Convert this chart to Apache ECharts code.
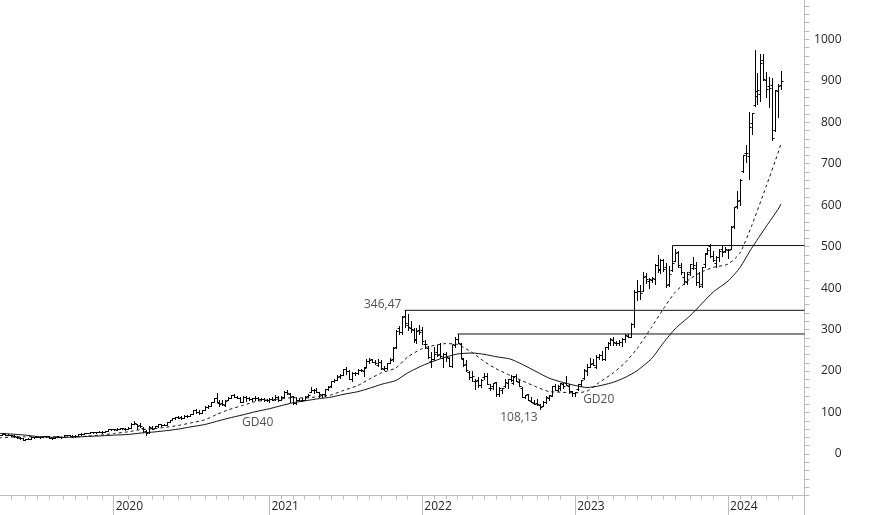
<!DOCTYPE html>
<html><head><meta charset="utf-8">
<script src="https://cdn.jsdelivr.net/npm/echarts@6/dist/echarts.min.js"></script>
<style>html,body{margin:0;padding:0;background:#fff;}#chart{width:874px;height:515px;}</style>
</head><body><div id="chart"></div>
<script>
// weekly bars: [week ending, open, high, low, close]
const ohlc2019 = [
['2019-04-05',44.2,46.9,44.0,46.7],['2019-04-12',46.7,48.2,46.0,47.5],['2019-04-18',47.5,48.3,46.4,46.8],['2019-04-26',46.8,48.1,45.4,45.4],
['2019-05-03',45.3,46.3,44.0,44.8],['2019-05-10',44.0,45.0,41.6,42.3],['2019-05-17',41.5,43.0,39.5,40.0],['2019-05-24',39.5,40.0,37.0,37.6],['2019-05-31',37.6,37.8,33.8,34.1],
['2019-06-07',34.0,37.0,33.3,36.5],['2019-06-14',36.5,39.0,36.2,36.2],['2019-06-21',36.5,41.1,36.3,40.6],['2019-06-28',40.5,41.5,38.8,41.1],
['2019-07-05',41.5,42.2,40.0,40.5],['2019-07-12',40.2,42.0,39.7,42.0],['2019-07-19',42.0,43.0,41.5,42.3],['2019-07-26',42.3,43.6,41.8,43.3],
['2019-08-02',43.3,43.8,39.5,39.7],['2019-08-09',38.5,39.5,37.0,39.5],['2019-08-16',39.0,42.0,37.5,41.5],['2019-08-23',43.0,44.4,40.0,40.4],['2019-08-30',40.0,42.0,39.8,42.0],
['2019-09-06',41.7,45.0,41.3,44.8],['2019-09-13',45.0,46.4,44.7,45.3],['2019-09-20',45.3,46.0,44.0,44.4],['2019-09-27',44.4,45.0,42.0,42.6],
['2019-10-04',43.0,44.7,42.0,44.6],['2019-10-11',44.5,47.4,44.3,47.4],['2019-10-18',47.4,49.5,47.0,48.0],['2019-10-25',48.0,50.5,47.5,50.4],
['2019-11-01',50.4,51.0,49.5,51.0],['2019-11-08',51.0,53.0,50.8,52.5],['2019-11-15',52.5,53.5,51.5,52.5],['2019-11-22',52.6,53.0,49.5,52.4],['2019-11-29',52.4,54.5,52.0,54.2],
['2019-12-06',54.0,54.5,50.8,52.5],['2019-12-13',52.5,56.0,52.0,56.0],['2019-12-20',56.0,59.5,55.5,59.5],['2019-12-27',59.5,60.0,58.8,59.5]
];
const ohlc2020 = [
['2020-01-03',59.5,60.0,57.8,59.2],['2020-01-10',59.0,62.0,58.5,61.3],['2020-01-17',61.3,63.0,60.5,62.5],['2020-01-24',62.5,63.4,61.0,62.0],['2020-01-31',61.0,63.0,58.5,59.3],
['2020-02-07',60.0,64.0,59.8,63.6],['2020-02-14',63.6,74.0,63.0,73.5],['2020-02-21',73.5,79.0,73.0,74.5],['2020-02-28',72.0,73.0,60.0,67.6],
['2020-03-06',69.0,74.0,64.5,67.0],['2020-03-13',63.0,66.0,52.5,60.0],['2020-03-20',55.0,59.0,45.0,50.0],['2020-03-27',52.0,66.5,51.0,64.0],
['2020-04-03',63.5,67.5,60.5,60.5],['2020-04-09',63.5,68.0,63.0,66.5],['2020-04-17',66.5,72.5,66.0,72.3],['2020-04-24',71.5,73.0,67.5,71.0],
['2020-05-01',71.0,73.3,69.0,70.0],['2020-05-08',70.0,77.3,69.5,77.3],['2020-05-15',77.0,82.0,76.5,81.8],['2020-05-22',82.0,88.0,82.0,87.0],['2020-05-29',88.0,89.5,84.5,88.8],
['2020-06-05',88.5,91.0,86.5,88.0],['2020-06-12',88.5,92.0,84.0,88.0],['2020-06-19',88.0,93.0,86.5,92.8],['2020-06-26',92.5,93.5,90.0,91.5],
['2020-07-02',91.5,97.7,91.0,97.5],['2020-07-10',97.5,106.5,97.0,105.0],['2020-07-17',105.0,107.5,99.0,101.0],['2020-07-24',102.0,106.0,96.0,100.0],['2020-07-31',100.0,107.0,99.0,106.0],
['2020-08-07',106.0,116.0,106.0,114.0],['2020-08-14',114.0,117.5,110.0,115.5],['2020-08-21',116.0,126.5,116.0,125.5],['2020-08-28',126.0,134.0,125.0,134.0],
['2020-09-04',134.0,147.6,126.0,126.0],['2020-09-11',124.0,131.0,115.5,121.5],['2020-09-18',124.0,130.0,119.0,119.5],['2020-09-25',117.5,129.5,116.5,129.0],
['2020-10-02',130.0,137.5,130.0,134.5],['2020-10-09',135.0,142.5,134.0,142.0],['2020-10-16',143.0,144.0,136.5,137.5],['2020-10-23',138.0,139.0,134.0,136.0],['2020-10-30',135.5,137.0,125.0,125.0],
['2020-11-06',126.0,141.0,125.0,136.5],['2020-11-13',138.0,141.0,128.0,135.0],['2020-11-20',134.0,137.0,130.0,131.5],['2020-11-27',132.0,135.5,129.0,134.5],
['2020-12-04',134.5,139.0,130.5,136.0],['2020-12-11',136.0,138.5,131.0,132.5],['2020-12-18',133.0,135.0,130.0,133.0],['2020-12-24',133.0,134.5,128.5,129.5],['2020-12-31',129.5,132.5,128.0,130.5]
];
const ohlc2021 = [
['2021-01-08',131.0,135.0,125.5,133.0],['2021-01-15',133.0,137.0,130.0,130.5],['2021-01-22',131.5,141.5,131.0,136.5],['2021-01-29',137.0,141.0,128.0,130.0],
['2021-02-05',131.0,139.0,130.0,136.5],['2021-02-12',137.0,151.0,137.0,149.5],['2021-02-19',150.0,153.7,145.0,147.0],['2021-02-26',144.0,146.0,126.5,137.0],
['2021-03-05',139.0,141.0,121.5,124.0],['2021-03-12',124.0,135.0,121.0,130.0],['2021-03-19',131.0,136.0,128.0,128.5],['2021-03-26',130.0,134.0,127.0,130.0],
['2021-04-01',130.0,139.0,129.5,138.0],['2021-04-09',139.0,144.0,137.0,143.5],['2021-04-16',150.0,162.0,149.0,155.0],['2021-04-23',154.0,156.0,146.0,154.0],['2021-04-30',154.0,158.0,149.0,150.0],
['2021-05-07',149.0,150.0,137.0,144.5],['2021-05-14',143.0,145.0,138.0,144.0],['2021-05-21',145.0,157.0,140.5,156.0],['2021-05-28',157.0,164.0,155.0,162.0],
['2021-06-04',163.0,176.0,161.0,175.0],['2021-06-11',175.0,180.0,173.0,178.0],['2021-06-18',178.0,191.0,178.0,186.0],['2021-06-25',187.0,193.0,183.0,191.0],
['2021-07-02',191.0,205.0,190.0,204.0],['2021-07-09',205.0,208.7,192.0,201.0],['2021-07-16',201.0,203.5,181.0,182.0],['2021-07-23',180.0,197.0,177.0,195.0],['2021-07-30',195.0,198.0,190.0,195.0],
['2021-08-06',195.0,206.0,194.0,203.0],['2021-08-13',202.0,206.0,199.0,202.0],['2021-08-20',201.0,209.0,188.5,208.0],['2021-08-27',210.0,229.0,210.0,224.0],
['2021-09-03',224.0,230.4,219.0,227.5],['2021-09-10',228.0,229.5,221.0,221.0],['2021-09-17',222.0,226.0,217.0,219.0],['2021-09-24',214.0,228.0,212.0,221.0],
['2021-10-01',221.0,226.0,205.0,207.0],['2021-10-08',206.0,212.0,203.5,208.0],['2021-10-15',207.0,219.0,206.0,219.0],['2021-10-22',220.0,231.0,220.0,227.0],['2021-10-29',228.0,257.0,225.0,255.7],
['2021-11-05',258.0,298.5,256.0,297.5],['2021-11-12',305.0,309.0,290.0,294.0],['2021-11-19',294.0,332.0,289.0,329.9],['2021-11-26',332.0,346.47,306.0,315.0],
['2021-12-03',312.0,337.0,298.0,306.0],['2021-12-10',305.0,321.0,295.0,302.0],['2021-12-17',300.0,304.0,270.0,278.0],['2021-12-23',274.0,304.0,268.0,297.0],['2021-12-31',300.0,310.0,290.0,294.1]
];
const ohlc2022 = [
['2022-01-07',298.0,307.0,266.0,272.5],['2022-01-14',265.0,275.0,255.0,265.0],['2022-01-21',255.0,260.0,232.0,233.7],['2022-01-28',224.0,245.0,208.9,228.4],
['2022-02-04',230.0,257.0,227.0,240.0],['2022-02-11',245.0,262.0,237.0,238.0],['2022-02-18',240.0,268.0,234.0,236.0],['2022-02-25',231.0,244.0,210.0,241.6],
['2022-03-04',240.0,247.0,225.0,233.0],['2022-03-11',231.0,235.0,212.0,213.0],['2022-03-18',213.0,264.0,210.0,264.5],['2022-03-25',264.0,282.0,258.0,276.9],
['2022-04-01',278.0,289.46,267.0,267.1],['2022-04-08',266.0,267.0,231.0,231.2],['2022-04-14',228.0,232.0,212.0,215.0],['2022-04-22',216.0,227.0,200.0,201.8],['2022-04-29',198.0,201.0,182.0,185.5],
['2022-05-06',186.0,199.0,175.0,187.0],['2022-05-13',175.0,181.0,155.7,177.0],['2022-05-20',178.0,185.0,162.0,167.0],['2022-05-27',166.0,180.0,161.0,178.5],
['2022-06-03',185.0,195.0,180.0,187.0],['2022-06-10',188.0,196.0,170.0,170.0],['2022-06-17',160.0,170.0,155.0,158.0],['2022-06-24',163.0,172.0,157.0,171.0],
['2022-07-01',173.0,174.0,140.5,145.2],['2022-07-08',145.0,161.0,140.5,158.1],['2022-07-15',155.0,160.0,147.0,160.0],['2022-07-22',163.0,180.0,162.0,173.0],['2022-07-29',172.0,182.0,159.0,181.6],
['2022-08-05',180.0,191.0,176.0,179.0],['2022-08-12',172.0,187.0,169.0,187.1],['2022-08-19',188.0,192.7,175.0,176.0],['2022-08-26',174.0,179.0,163.0,163.5],
['2022-09-02',160.0,162.0,136.5,136.5],['2022-09-09',137.0,143.0,135.0,143.0],['2022-09-16',144.0,145.0,130.0,130.7],['2022-09-23',129.0,137.0,125.0,125.2],['2022-09-30',124.0,130.0,119.5,121.4],
['2022-10-07',124.0,132.0,119.0,120.8],['2022-10-14',118.0,121.0,108.13,112.3],['2022-10-21',116.0,127.0,115.0,124.7],['2022-10-28',125.0,139.0,124.0,138.3],
['2022-11-04',136.0,142.0,131.0,141.6],['2022-11-11',141.0,165.0,139.0,163.3],['2022-11-18',165.0,170.0,154.0,154.1],['2022-11-25',154.0,166.0,152.0,163.3],
['2022-12-02',160.0,172.0,155.0,170.9],['2022-12-09',170.0,172.0,159.0,164.0],['2022-12-16',171.0,187.0,166.0,166.0],['2022-12-23',164.0,168.0,148.0,152.1],['2022-12-30',151.0,151.0,140.3,146.1]
];
const ohlc2023 = [
['2023-01-06',148.0,149.0,140.3,148.6],['2023-01-13',156.0,169.0,154.0,169.0],['2023-01-20',169.0,178.0,163.0,178.4],['2023-01-27',184.0,204.0,182.0,203.6],
['2023-02-03',199.0,217.0,191.0,211.0],['2023-02-10',209.0,231.0,209.0,217.8],['2023-02-17',219.0,230.0,214.0,213.9],['2023-02-24',211.0,238.0,207.0,232.9],
['2023-03-03',235.0,240.0,229.0,239.0],['2023-03-10',238.0,248.0,227.0,229.6],['2023-03-17',230.0,259.0,227.0,257.2],['2023-03-24',258.0,271.0,254.0,267.8],['2023-03-31',268.0,280.0,262.0,277.8],
['2023-04-06',276.0,281.0,262.0,270.4],['2023-04-14',267.0,273.0,262.0,267.3],['2023-04-21',267.0,275.0,263.0,271.0],['2023-04-28',269.0,280.0,261.0,277.5],
['2023-05-05',278.0,289.0,271.0,287.0],['2023-05-12',285.0,290.0,281.0,283.0],['2023-05-19',283.0,316.0,282.0,312.6],['2023-05-26',313.0,395.0,306.0,389.5],
['2023-06-02',391.0,419.4,371.0,393.3],['2023-06-09',392.0,408.0,373.0,387.7],['2023-06-16',393.0,439.9,392.0,426.9],['2023-06-23',430.0,436.0,413.0,422.1],['2023-06-30',418.0,425.0,400.0,423.0],
['2023-07-07',420.0,426.0,414.0,425.0],['2023-07-14',421.0,459.0,411.0,454.7],['2023-07-21',456.0,480.9,440.0,443.1],['2023-07-28',445.0,470.0,436.0,467.5],
['2023-08-04',468.0,470.0,441.0,446.8],['2023-08-11',450.0,460.0,403.1,408.6],['2023-08-18',410.0,454.0,406.0,432.9],['2023-08-25',444.0,502.66,441.0,460.2],
['2023-09-01',466.0,494.0,465.0,485.1],['2023-09-08',488.0,488.9,450.0,455.7],['2023-09-15',452.0,460.0,433.0,439.0],['2023-09-22',427.0,439.0,409.8,416.1],['2023-09-29',415.0,438.0,409.0,435.0],
['2023-10-06',440.0,458.0,431.0,457.6],['2023-10-13',448.0,476.0,445.0,454.6],['2023-10-20',449.0,464.0,408.0,413.9],['2023-10-27',415.0,439.0,403.0,405.0],
['2023-11-03',410.0,452.0,403.0,450.1],['2023-11-10',458.0,484.0,451.0,483.4],['2023-11-17',485.0,497.0,483.0,492.0],['2023-11-24',501.0,505.5,475.0,477.8],
['2023-12-01',478.0,490.0,465.0,467.7],['2023-12-08',460.0,477.0,450.0,475.1],['2023-12-15',474.0,494.0,466.0,488.9],['2023-12-22',494.0,502.0,478.0,488.3],['2023-12-29',489.0,499.0,488.0,495.2]
];
const ohlc2024 = [
['2024-01-05',492.0,494.0,473.0,490.9],['2024-01-12',495.0,550.0,494.0,547.1],['2024-01-19',550.0,595.0,545.0,594.9],['2024-01-26',598.0,634.9,592.0,610.3],
['2024-02-02',612.0,663.0,600.0,661.6],['2024-02-09',682.0,722.0,680.0,721.3],['2024-02-16',726.0,746.0,705.0,726.1],['2024-02-23',719.0,823.9,662.5,788.2],
['2024-03-01',797.0,823.0,771.0,822.8],['2024-03-08',841.0,974.0,838.0,875.3],['2024-03-15',864.0,919.6,845.0,878.4],['2024-03-22',867.0,965.7,850.0,942.9],['2024-03-28',950.0,963.8,902.0,903.6],
['2024-04-05',902.0,922.0,860.0,880.1],['2024-04-12',887.0,908.0,837.0,881.9],['2024-04-19',890.0,906.0,756.0,762.0],['2024-04-26',781.0,878.0,779.0,877.4],
['2024-05-03',875.0,892.0,812.0,887.9],['2024-05-10',890.0,924.0,880.0,898.8]
];
// empty weeks to the right edge of the time axis
const padWeeks = ['2024-05-17','2024-05-24','2024-05-31','2024-06-07','2024-06-14','2024-06-21','2024-06-28','2024-07-05'];

// moving averages: [date, value]
const ma20 = [
['2019-04-01',38.9],['2019-05-01',40.8],['2019-06-01',41.5],['2019-07-01',41.5],['2019-08-01',41.7],['2019-09-01',40.8],['2019-10-01',41.1],['2019-11-01',43.2],['2019-12-01',46.0],
['2020-01-01',49.5],['2020-02-01',53.6],['2020-03-01',58.8],['2020-04-01',60.9],['2020-05-01',63.8],['2020-06-01',68.8],['2020-07-01',74.6],['2020-08-01',82.4],['2020-09-01',95.2],['2020-10-01',106.6],['2020-11-01',117.5],['2020-12-01',126.1],
['2021-01-01',130.9],['2021-02-01',133.0],['2021-03-01',136.2],['2021-04-01',135.0],['2021-05-01',138.7],['2021-06-01',142.6],['2021-07-01',152.8],['2021-08-01',165.0],['2021-09-01',180.6],['2021-10-01',195.4],['2021-11-01',207.6],['2021-12-01',233.9],
['2022-01-01',254.3],['2022-02-01',261.8],['2022-03-01',266.3],['2022-04-01',263.9],['2022-05-01',244.6],['2022-06-01',223.2],['2022-07-01',205.9],['2022-08-01',189.1],['2022-09-01',176.5],['2022-10-01',161.3],['2022-11-01',150.7],['2022-12-01',149.1],
['2023-01-01',147.6],['2023-02-01',151.5],['2023-03-01',171.6],['2023-04-01',196.0],['2023-05-01',220.5],['2023-06-01',253.7],['2023-07-01',306.0],['2023-08-01',350.0],['2023-09-01',390.0],['2023-10-01',422.0],['2023-11-01',439.0],['2023-12-01',450.0],
['2024-01-01',458.0],['2024-02-01',484.0],['2024-03-01',550.0],['2024-04-01',646.0],['2024-05-01',726.0],['2024-05-10',749.0]
];
const ma40 = [
['2019-04-01',50.0],['2019-05-01',48.3],['2019-06-01',45.5],['2019-07-01',42.2],['2019-08-01',40.4],['2019-09-01',40.2],['2019-10-01',41.1],['2019-11-01',42.4],['2019-12-01',43.9],
['2020-01-01',45.5],['2020-02-01',47.2],['2020-03-01',50.4],['2020-04-01',52.7],['2020-05-01',55.6],['2020-06-01',60.1],['2020-07-01',65.2],['2020-08-01',71.1],['2020-09-01',78.7],['2020-10-01',86.3],['2020-11-01',94.5],['2020-12-01',101.7],
['2021-01-01',109.3],['2021-02-01',116.6],['2021-03-01',123.7],['2021-04-01',128.2],['2021-05-01',133.7],['2021-06-01',137.2],['2021-07-01',143.7],['2021-08-01',150.3],['2021-09-01',158.5],['2021-10-01',167.9],['2021-11-01',177.3],['2021-12-01',195.5],
['2022-01-01',213.2],['2022-02-01',224.2],['2022-03-01',233.9],['2022-04-01',241.2],['2022-05-01',243.6],['2022-06-01',240.4],['2022-07-01',234.8],['2022-08-01',228.8],['2022-09-01',216.1],['2022-10-01',197.8],['2022-11-01',183.3],['2022-12-01',174.2],
['2023-01-01',165.3],['2023-02-01',160.3],['2023-03-01',164.1],['2023-04-01',173.0],['2023-05-01',184.7],['2023-06-01',200.7],['2023-07-01',230.1],['2023-08-01',268.0],['2023-09-01',302.0],['2023-10-01',333.0],['2023-11-01',362.0],['2023-12-01',391.0],
['2024-01-01',417.0],['2024-02-01',449.0],['2024-03-01',496.0],['2024-04-01',549.0],['2024-05-01',590.0],['2024-05-10',603.0]
];
// horizontal resistance levels: [start week, level]
const levels = [['2021-11-26',346.47],['2022-04-01',289.46],['2023-08-25',502.66]];
// text annotations: [week, value, text]
const notes = [['2021-11-26',346.47,'346,47'],['2022-10-14',108.13,'108,13'],['2020-12-11',104,'GD40'],['2023-03-03',172,'GD20']];
const noteOffsets = [[-22,-6],[-21,8],[0,12],[0,17]];
const yLabels = [0,100,200,300,400,500,600,700,800,900,1000];

const rows = [].concat(ohlc2019, ohlc2020, ohlc2021, ohlc2022, ohlc2023, ohlc2024);
const cats = rows.map(r => r[0]).concat(padWeeks);
const lastIdx = cats.length - 1;
function idxOf(d){ for (let i = 0; i < cats.length; i++) if (cats[i] >= d) return i; return lastIdx; }
const monthStart = cats.map((c,i) => i > 0 && c.slice(0,7) !== cats[i-1].slice(0,7));
const yearStart = cats.map((c,i) => i > 0 && c.slice(0,4) !== cats[i-1].slice(0,4));
const bars = rows.map((r,i) => [i, r[1], r[2], r[3], r[4]]);

const AX = '#bcbcbc';
const TXT = '#262626';
const FONT = {fontFamily:'Open Sans', fontSize:12, color:TXT};
const chart = echarts.init(document.getElementById('chart'), null, {renderer:'canvas'});

const series = [
  {
    type:'custom', name:'bars', xAxisIndex:0, yAxisIndex:0, clip:true, silent:true,
    encode:{x:0, y:[1,2,3,4]},
    data: bars,
    renderItem: function(params, api){
      const i = api.value(0);
      const pO = api.coord([i, api.value(1)]);
      const pH = api.coord([i, api.value(2)]);
      const pL = api.coord([i, api.value(3)]);
      const pC = api.coord([i, api.value(4)]);
      const x = Math.round(pH[0]) + 0.5;
      const yo = Math.round(pO[1]) + 0.5, yc = Math.round(pC[1]) + 0.5;
      const st = {stroke:'#000', lineWidth:1};
      return {type:'group', children:[
        {type:'line', shape:{x1:x, y1:Math.round(pH[1]), x2:x, y2:Math.round(pL[1]) + 1}, style:st},
        {type:'line', shape:{x1:x - 2, y1:yo, x2:x, y2:yo}, style:st},
        {type:'line', shape:{x1:x, y1:yc, x2:x + 2, y2:yc}, style:st}
      ]};
    }
  },
  {type:'line', name:'GD40', data: ma40.map(r => [idxOf(r[0]), r[1]]), showSymbol:false, symbol:'none', smooth:0.2, silent:true,
   lineStyle:{color:'#111', width:1}},
  {type:'line', name:'GD20', data: ma20.map(r => [idxOf(r[0]), r[1]]), showSymbol:false, symbol:'none', smooth:0.2, silent:true,
   lineStyle:{color:'#111', width:1, type:[3,3]}}
];
levels.forEach(l => series.push({
  type:'line', data:[[idxOf(l[0]), l[1]], [lastIdx, l[1]]], showSymbol:false, symbol:'none', silent:true,
  lineStyle:{color:'#111', width:1}
}));
series.push({
  type:'scatter', symbolSize:1, itemStyle:{color:'rgba(0,0,0,0)'}, silent:true,
  data: notes.map((n,k) => ({value:[idxOf(n[0]), n[1]], name:n[2],
    label:{show:true, position:'inside', offset:noteOffsets[k], formatter:n[2], align:'center', verticalAlign:'middle',
      fontFamily:FONT.fontFamily, fontSize:12, color:TXT}}))
});

chart.setOption({
  animation:false,
  backgroundColor:'#fff',
  grid:{left:-1, right:69.5, top:-2.2, bottom:19.5, containLabel:false, outerBoundsMode:'none'},
  xAxis:[
    {type:'category', data:cats, boundaryGap:false, position:'bottom',
     axisLine:{show:true, onZero:false, lineStyle:{color:AX, width:1}},
     axisTick:{show:true, length:4, interval:(i) => monthStart[i], lineStyle:{color:AX}},
     axisLabel:{show:false}, splitLine:{show:false}},
    {type:'category', data:cats, boundaryGap:false, position:'bottom',
     axisLine:{show:false, onZero:false},
     axisTick:{show:true, length:20, interval:(i) => yearStart[i] || i === lastIdx, lineStyle:{color:AX}},
     axisLabel:Object.assign({show:true, interval:(i) => yearStart[i], formatter:(v) => v.slice(0,4),
       align:'left', margin:5, padding:[0,0,0,2]}, FONT),
     splitLine:{show:false}}
  ],
  yAxis:{type:'value', position:'right', min:-100, max:1100, interval:20,
    axisLine:{show:true, lineStyle:{color:AX, width:1}},
    axisTick:{show:true, length:5, lineStyle:{color:AX}},
    axisLabel:Object.assign({formatter:(v) => yLabels.indexOf(v) >= 0 ? String(v) : '', align:'right', margin:37}, FONT),
    splitLine:{show:false}},
  series: series
});
</script></body></html>
